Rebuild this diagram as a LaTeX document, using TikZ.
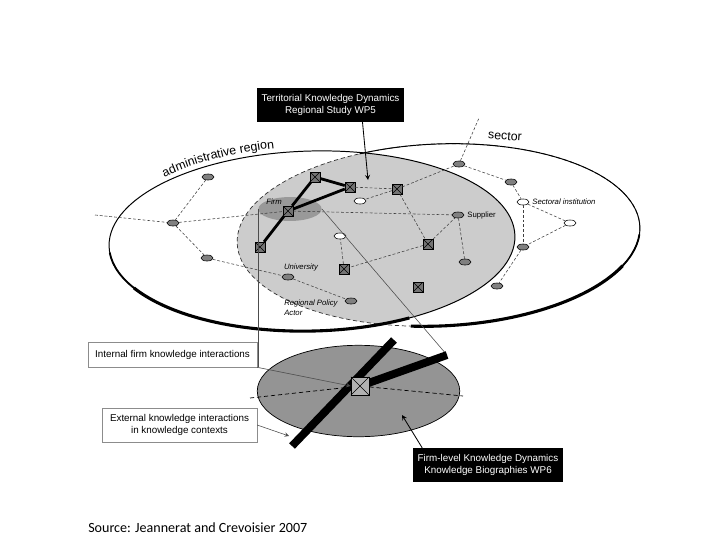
\documentclass[tikz,border=0pt]{standalone}
\usepackage{fontspec}
\setmainfont{Liberation Sans}
\newfontfamily\srcfont{Carlito}
\usetikzlibrary{arrows,shapes,positioning,calc,decorations.text}

\begin{document}
\begin{tikzpicture}[
    x=0.025cm, y=-0.025cm, >=stealth,
    font=\fontsize{7}{8}\selectfont,
    firm/.style={rectangle, draw, fill=black!55, minimum size=7pt, inner sep=0pt,
        path picture={\draw (path picture bounding box.north west) -- (path picture bounding box.south east)
            (path picture bounding box.south west) -- (path picture bounding box.north east);}},
    actor/.style={ellipse, draw, fill=black!50, minimum width=8.5pt, minimum height=4.3pt, inner sep=0pt},
    inst/.style={actor, fill=white},
    link/.style={draw=black!75, line width=0.4pt, dash pattern=on 2pt off 1.4pt},
    tie/.style={line width=2pt},
    bar/.style={line width=5.6pt},
    proj/.style={draw=black!70, line width=0.4pt},
    darkbox/.style={fill=black, text=white, align=center, minimum height=24pt, inner sep=2pt},
    notebox/.style={draw=black!45, fill=white, align=center, inner sep=2pt},
    lbl/.style={font=\fontsize{5.5}{6.5}\selectfont\itshape, inner sep=0pt}
]
    \fill[white] (0,0) rectangle (720,540);

    % region where administrative region and sector overlap
    \begin{scope}
        \clip[shift={(312,241)}, rotate=1.5] (0,0) ellipse [x radius=203, y radius=90];
        \fill[black!20, shift={(438.5,235)}, rotate=2.4] (0,0) ellipse [x radius=201.5, y radius=91];
    \end{scope}
    \draw[black!80, line width=0.5pt, dash pattern=on 3pt off 2pt, shift={(438.5,235)}, rotate=2.4]
        (0,0) ellipse [x radius=201.5, y radius=91];
    \draw[line width=0.7pt, shift={(312,241)}, rotate=1.5] (0,0) ellipse [x radius=203, y radius=90];
    \draw[line width=0.7pt, shift={(438.5,235)}, rotate=2.4]
        (-112:201.5 and 91) arc [start angle=-112, end angle=99, x radius=201.5, y radius=91];
    \draw[line width=1.3pt, shift={(438.5,235)}, rotate=2.4]
        (5:201.5 and 91) arc [start angle=5, end angle=30, x radius=201.5, y radius=91];
    \draw[line width=2.2pt, shift={(438.5,235)}, rotate=2.4]
        (25:201.5 and 91) arc [start angle=25, end angle=99, x radius=201.5, y radius=91];
    \draw[line width=1.3pt, shift={(312,241)}, rotate=1.5]
        (150:203 and 90) arc [start angle=150, end angle=176, x radius=203, y radius=90];
    \draw[line width=2.2pt, shift={(312,241)}, rotate=1.5]
        (62:203 and 90) arc [start angle=62, end angle=152, x radius=203, y radius=90];

    \path[shift={(312,241)}, rotate=1.5, decorate, decoration={text along path, text align=center,
        text={|\fontsize{8.8}{10}\selectfont|administrative region}}]
        (215:208 and 95) arc [start angle=215, end angle=268, x radius=208, y radius=95];
    \node[font=\fontsize{8.8}{10}\selectfont, rotate=-4] (sectorlbl) at (505,136) {sector};

    \node[ellipse, fill=black!40, minimum width=45pt, minimum height=17pt, inner sep=0pt] (firmarea) at (290,209) {};
    \node[lbl] (firmlbl) at (274,202) {Firm};

    % firms
    \node[firm] (f1) at (315,177) {};
    \node[firm] (f2) at (350,187) {};
    \node[firm] (f3) at (397,189) {};
    \node[firm] (firm) at (288,211) {};
    \node[firm] (f5) at (260,247) {};
    \node[firm] (f6) at (428,244) {};
    \node[firm] (f7) at (344,269) {};
    \node[firm] (f8) at (418,287) {};

    % other actors
    \node[actor] (a1) at (208,177) {};
    \node[actor] (a2) at (173,223) {};
    \node[actor] (a3) at (207,258) {};
    \node[actor] (uni) at (288,277) {};
    \node[actor] (pol) at (351,301) {};
    \node[actor] (a6) at (459,164) {};
    \node[actor] (a7) at (511,182) {};
    \node[actor] (sup) at (458,215) {};
    \node[actor] (a9) at (465,262) {};
    \node[actor] (a10) at (523,247) {};
    \node[actor] (a11) at (497,286) {};
    \node[inst] (w1) at (360,201) {};
    \node[inst] (w2) at (340,236) {};
    \node[inst] (sect) at (523,202) {};
    \node[inst] (w4) at (570,223) {};

    \node[lbl, font=\fontsize{5.5}{6.5}\selectfont, right=2pt of sup] (suplbl) {Supplier};
    \node[lbl, right=2pt of sect] (sectlbl) {Sectoral institution};
    \node[lbl] (unilbl) at (301,267) {University};
    \node[lbl, align=left, anchor=north west] (pollbl) at (284,300) {Regional Policy\\Actor};

    \coordinate (lfar) at (95,215);
    \coordinate (sfar) at (479,118);
    \draw[link] (lfar) -- (a2) -- (firm) -- (sup);
    \draw[link] (a1) -- (a2) -- (a3) -- (uni) -- (pol);
    \draw[link] (f2) -- (f3) -- (w1);
    \draw[link] (f3) -- (a6) -- (sfar);
    \draw[link] (a6) -- (a7) -- (sect) -- (w4) -- (a10) -- (a11);
    \draw[link] (sect) -- (a10);
    \draw[link] (f3) -- (f6) -- (sup) -- (a9);
    \draw[link] (f6) -- (f7) -- (w2);
    \draw[tie] (f5) -- (firm) -- (f1) -- (f2) -- (firm);

    % firm level
    \node[notebox, minimum width=120pt, minimum height=17.8pt] (intbox) at (172.5,354.5) {Internal firm knowledge interactions};
    \node[notebox, minimum width=110pt, minimum height=24pt] (extbox) at (179.5,425) {External knowledge interactions\\in knowledge contexts};
    \node[ellipse, draw, fill=black!42, line width=0.5pt, minimum width=144pt, minimum height=65pt] (disk) at (358.5,391) {};

    \coordinate (hubc) at (360,386);
    \coordinate (barA) at (292,446);
    \coordinate (barB) at (394,340);
    \coordinate (barC) at (447,355);
    \draw[proj] (firmarea.west) -- (firmarea.west |- intbox.south east);
    \draw[proj] (firmarea.east) -- (barC);
    \draw[bar] (barA) -- (barB);
    \draw[bar] (hubc) -- (barC);
    \node[firm, fill=black!30, minimum size=13pt] (hub) at (hubc) {};

    \coordinate (dl) at (250,398);
    \coordinate (dr) at (463,396);
    \draw[black, line width=0.5pt, dash pattern=on 3pt off 2pt] (dl) -- (hub) -- (dr);
    \coordinate (extend) at (289,436);
    \draw[->, proj] (intbox.south east) -- (hub.west);
    \draw[->, proj] (extbox.east) -- (extend);

    \node[darkbox, minimum width=104pt] (wp5) at (330.5,105) {Territorial Knowledge Dynamics\\Regional Study WP5};
    \node[darkbox, minimum width=106pt] (wp6) at (488,465) {Firm-level Knowledge Dynamics\\Knowledge Biographies WP6};
    \coordinate (wp5tip) at (368,180);
    \coordinate (disktip) at (402,415);
    \draw[->, line width=0.6pt] ($(wp5.south)+(32,0)$) -- (wp5tip);
    \draw[->, line width=0.6pt] ($(wp6.north west)+(9,0)$) -- (disktip);

    \node[font=\srcfont\fontsize{10}{12}\selectfont, anchor=west, inner sep=0pt] (src) at (88,528) {Source: Jeannerat and Crevoisier 2007};
\end{tikzpicture}
\end{document}
